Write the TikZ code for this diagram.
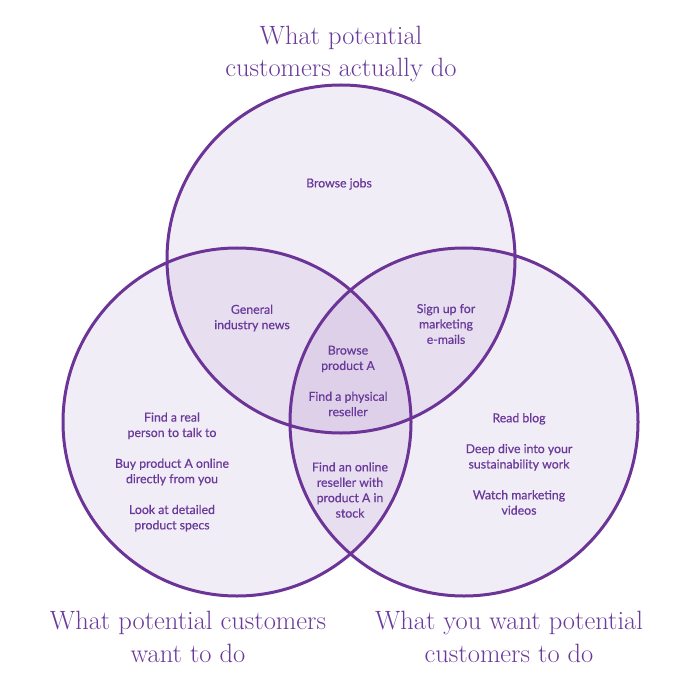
\documentclass[tikz,border=0pt]{standalone}
\usepackage{fontspec}
\newfontfamily\bodyfont{Lato}[FakeBold=0.6]
\definecolor{vline}{HTML}{6C3496}
\definecolor{vtext}{HTML}{6A3A9B}
\definecolor{vone}{HTML}{F1EDF6}
\definecolor{vtwo}{HTML}{E7DEF0}
\definecolor{vthree}{HTML}{DDD0E8}
\tikzset{
  item/.style={text=vtext,align=center,font=\bodyfont\fontsize{12.3}{15.4}\selectfont},
  heading/.style={text=vtext,align=center,font=\fontsize{26.5}{32.5}\selectfont},
}
\begin{document}
\begin{tikzpicture}[x=1pt,y=-1pt,line width=3pt]
\useasboundingbox (0,0) rectangle (700,700);
\def\rad{174}
\coordinate (T) at (341,259);
\coordinate (L) at (237,422);
\coordinate (R) at (464,422);
% fills
\fill[vone] (T) circle (\rad) (L) circle (\rad) (R) circle (\rad);
\begin{scope}
\clip (T) circle (\rad);
\fill[vtwo] (L) circle (\rad) (R) circle (\rad);
\end{scope}
\begin{scope}
\clip (L) circle (\rad);
\fill[vtwo] (R) circle (\rad);
\clip (R) circle (\rad);
\fill[vthree] (T) circle (\rad);
\end{scope}
% outlines
\draw[vline] (T) circle (\rad) (L) circle (\rad) (R) circle (\rad);
% headings
\node[heading] (hdo) at (341,54) {What potential\\customers actually do};
\node[heading] (hwant) at (188,637) {What potential customers\\want to do};
\node[heading] (hyou) at (509,637) {What you want potential\\customers to do};
% texts
\node[item] (jobs) at (339,184) {Browse jobs};
\node[item] (news) at (252,318) {General\\industry news};
\node[item] (mails) at (446,324) {Sign up for\\marketing\\e-mails};
\node[item] (prod) at (348,381) {Browse\\product A\\[15.4pt]Find a physical\\reseller};
\node[item] (online) at (350,490) {Find an online\\reseller with\\product A in\\stock};
\node[item] (left) at (172,472) {Find a real\\person to talk to\\[15.4pt]Buy product A online\\directly from you\\[15.4pt]Look at detailed\\product specs};
\node[item] (right) at (519,464) {Read blog\\[15.4pt]Deep dive into your\\sustainability work\\[15.4pt]Watch marketing\\videos};
\end{tikzpicture}
\end{document}
